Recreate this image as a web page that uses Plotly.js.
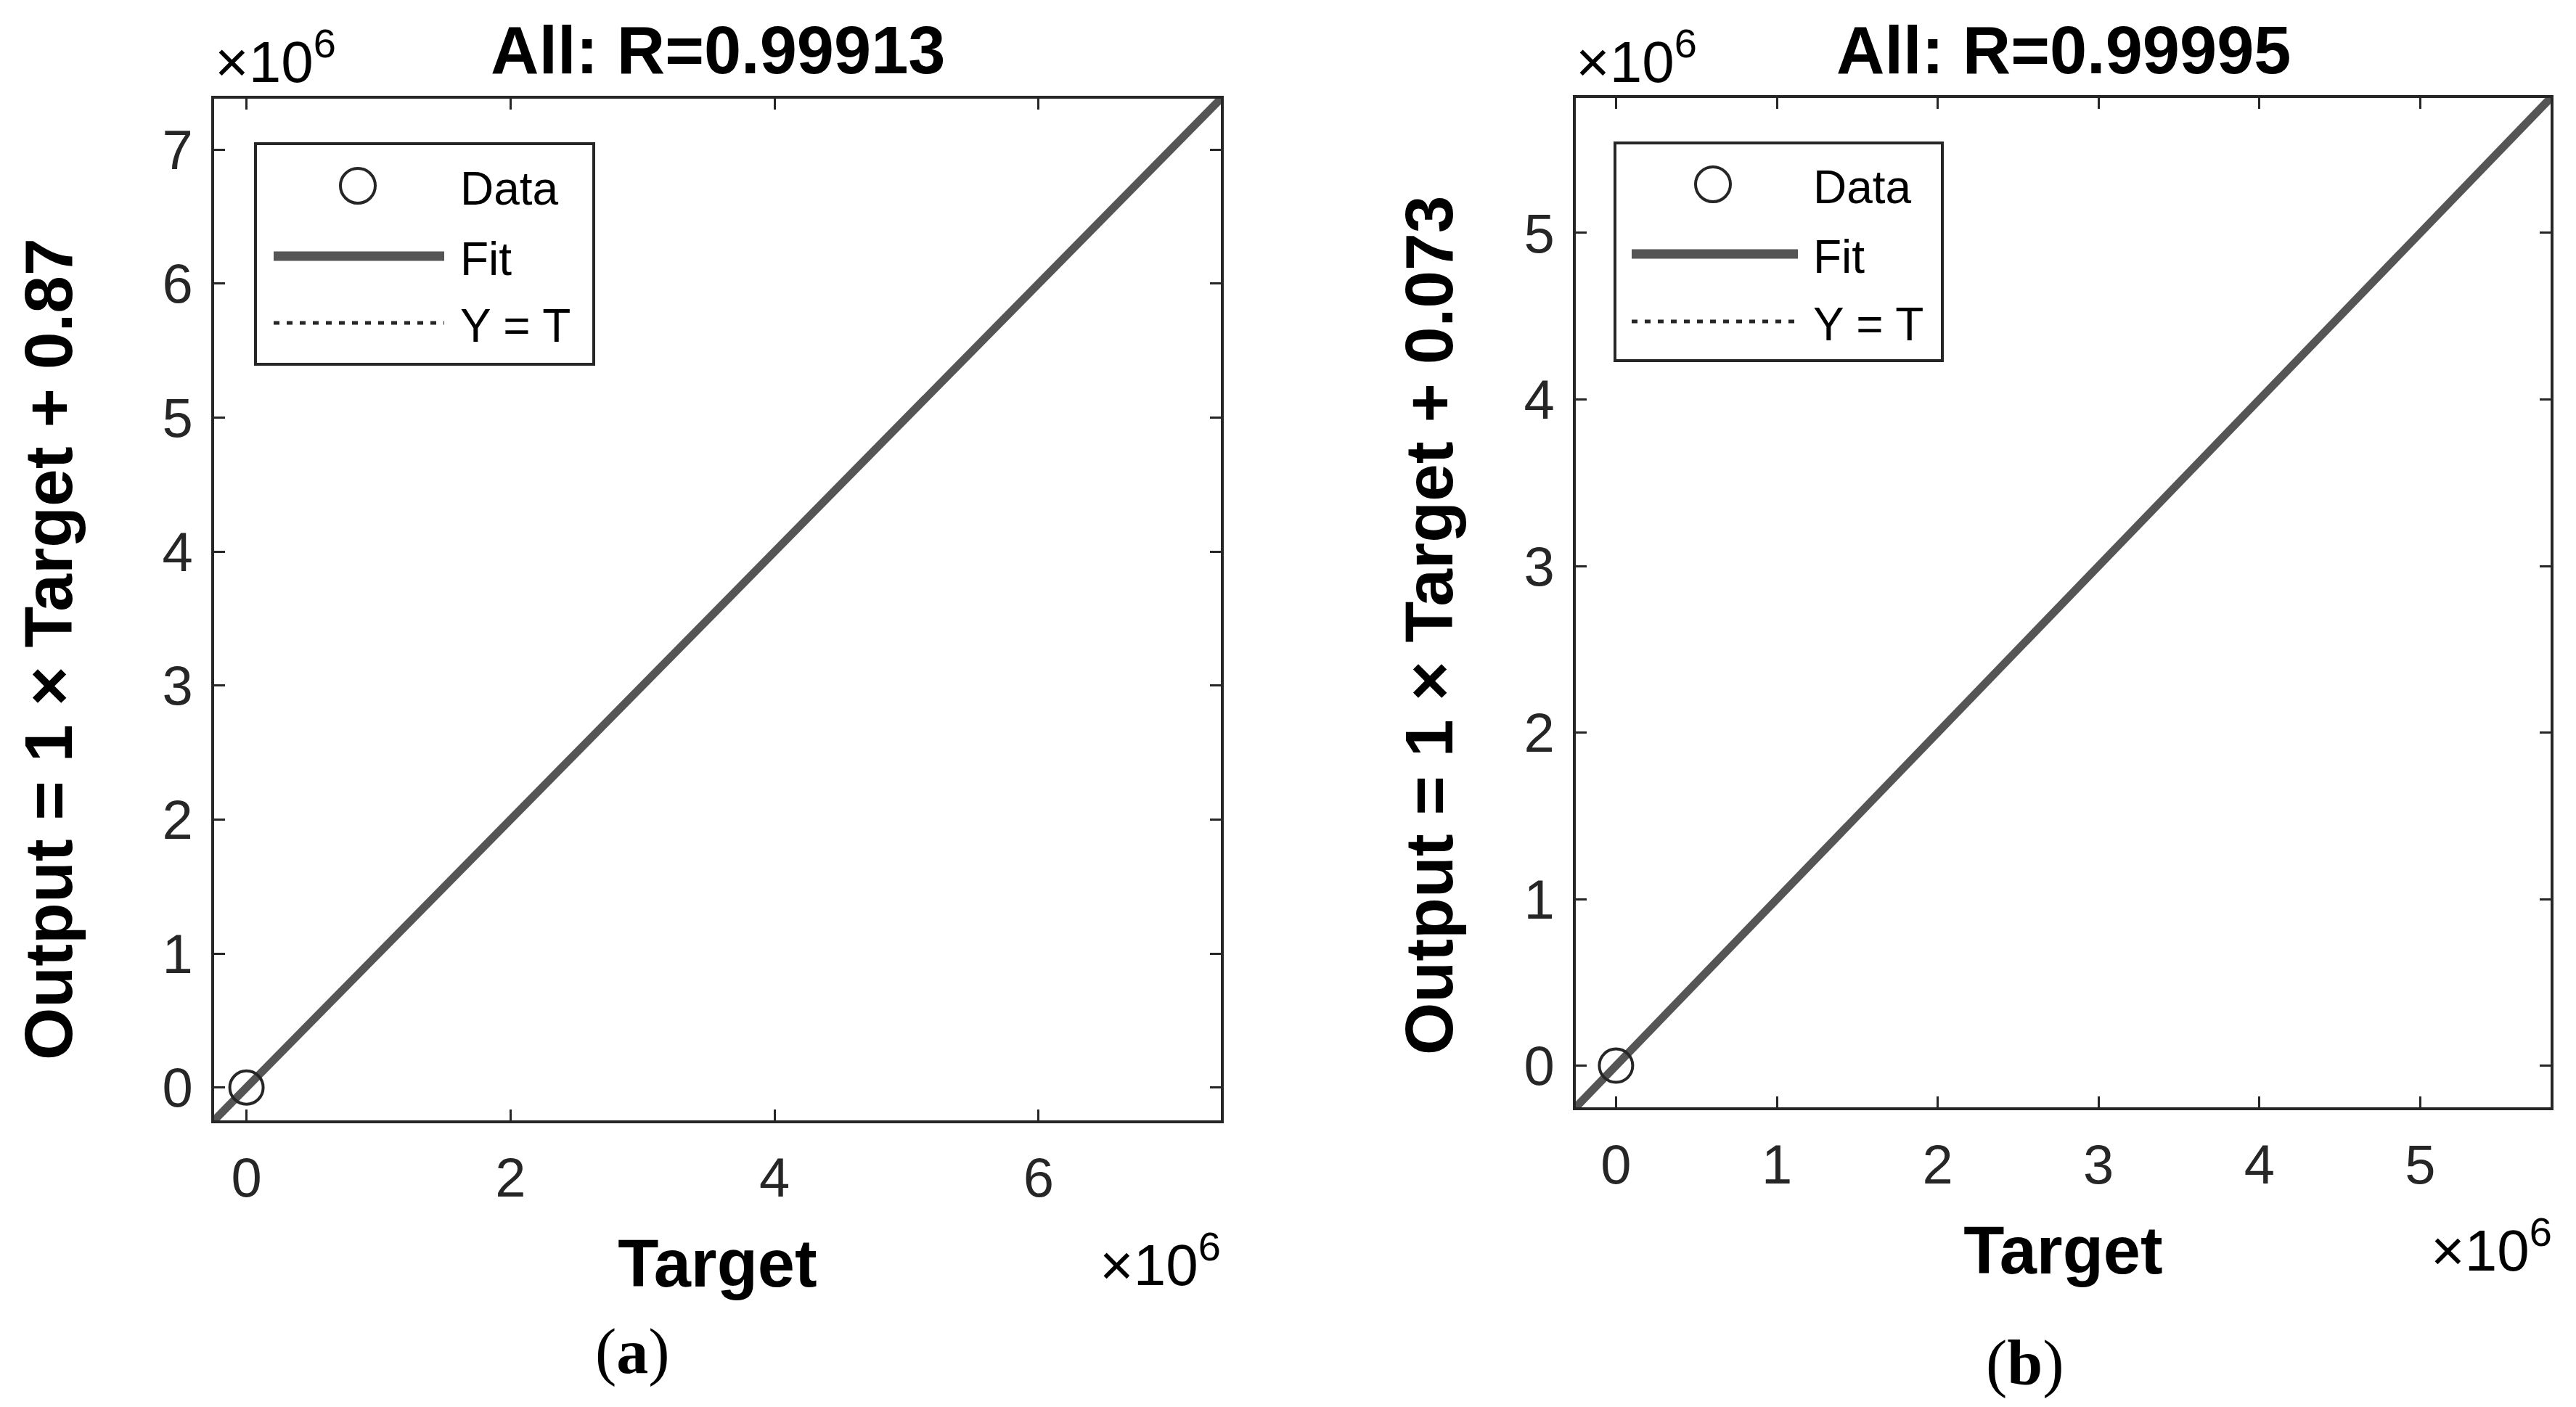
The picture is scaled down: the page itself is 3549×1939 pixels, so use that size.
<!DOCTYPE html>
<html>
<head>
<meta charset="utf-8">
<script src="https://cdn.plot.ly/plotly-3.0.1.min.js"></script>
<style>
  html, body { margin: 0; padding: 0; background: #fff; }
  #chart { width: 3549px; height: 1939px; }
</style>
</head>
<body>
<div id="chart"></div>
<script>
const W = 3549;
const H = 1939;

// (a) regression of Output on Target
const targetA = [0];
const outputA = [0];
const fitTargetA = [-0.245e6, 7.38e6];
const fitOutputA = [-0.245e6, 7.38e6];
const limitsA = [-0.245e6, 7.38e6];
const xTicksA = [0, 2e6, 4e6, 6e6];
const xLabelsA = ['0', '2', '4', '6'];
const yTicksA = [0, 1e6, 2e6, 3e6, 4e6, 5e6, 6e6, 7e6];
const yLabelsA = ['0', '1', '2', '3', '4', '5', '6', '7'];
const titleA = 'All: R=0.99913';
const yTitleA = 'Output = 1 \u00d7 Target + 0.87';

// (b)
const targetB = [0];
const outputB = [0];
const fitTargetB = [-0.25e6, 5.81e6];
const fitOutputB = [-0.25e6, 5.81e6];
const limitsB = [-0.25e6, 5.81e6];
const xTicksB = [0, 1e6, 2e6, 3e6, 4e6, 5e6];
const xLabelsB = ['0', '1', '2', '3', '4', '5'];
const yTicksB = [0, 1e6, 2e6, 3e6, 4e6, 5e6];
const yLabelsB = ['0', '1', '2', '3', '4', '5'];
const titleB = 'All: R=0.99995';
const yTitleB = 'Output = 1 \u00d7 Target + 0.073';

const legendNames = ['Data', 'Fit', 'Y = T'];

const AXIS = '#262626';
const FIT = '#555555';
const SANS = 'Liberation Sans, Arial, Helvetica, sans-serif';
const SERIF = 'Liberation Serif, Times New Roman, serif';
const DOTS = '8px,10px';

// pixel -> paper helpers
const px = x => x / W;
const py = y => 1 - y / H;

function traces(xa, ya, tx, ty, fx, fy) {
  return [
    { x: fx, y: fy, xaxis: xa, yaxis: ya, type: 'scatter', mode: 'lines',
      name: legendNames[2], line: { color: AXIS, width: 4, dash: DOTS } },
    { x: fx, y: fy, xaxis: xa, yaxis: ya, type: 'scatter', mode: 'lines',
      name: legendNames[1], line: { color: FIT, width: 11 } },
    { x: tx, y: ty, xaxis: xa, yaxis: ya, type: 'scatter', mode: 'markers',
      name: legendNames[0],
      marker: { symbol: 'circle-open', size: 46, color: AXIS, line: { width: 4, color: AXIS } } },
  ];
}

function axis(domain, range, tickvals, ticktext, extra) {
  return Object.assign({
    domain, range, tickvals, ticktext,
    showline: true, mirror: 'ticks', linecolor: AXIS, linewidth: 4,
    ticks: 'inside', ticklen: 15, tickwidth: 3, tickcolor: AXIS,
    showgrid: false, zeroline: false, fixedrange: true,
    tickfont: { family: SANS, size: 76, color: AXIS },
  }, extra);
}

// hand-made MATLAB style legend box
function legendBox(left, top, right, bottom, cx, lineX0, lineX1, textX, rows) {
  const shapes = [
    { type: 'rect', xref: 'paper', yref: 'paper', x0: px(left), x1: px(right), y0: py(bottom), y1: py(top),
      line: { color: AXIS, width: 4 }, fillcolor: '#ffffff', layer: 'above' },
    { type: 'circle', xref: 'paper', yref: 'paper', x0: px(cx - 24), x1: px(cx + 24),
      y0: py(rows[0] + 24), y1: py(rows[0] - 24), line: { color: AXIS, width: 4 }, layer: 'above' },
    { type: 'line', xref: 'paper', yref: 'paper', x0: px(lineX0), x1: px(lineX1),
      y0: py(rows[1]), y1: py(rows[1]), line: { color: FIT, width: 13 }, layer: 'above' },
    { type: 'line', xref: 'paper', yref: 'paper', x0: px(lineX0), x1: px(lineX1),
      y0: py(rows[2]), y1: py(rows[2]), line: { color: AXIS, width: 5, dash: DOTS }, layer: 'above' },
  ];
  const notes = legendNames.map((name, i) => ({
    xref: 'paper', yref: 'paper', x: px(textX), y: py(rows[i] + 4),
    xanchor: 'left', yanchor: 'middle', showarrow: false, text: name,
    font: { family: SANS, size: 64, color: '#000' },
  }));
  return { shapes, notes };
}

function note(x, y, text, size, xanchor, yanchor, family, angle) {
  return { xref: 'paper', yref: 'paper', x: px(x), y: py(y), xanchor, yanchor, showarrow: false,
    textangle: angle || 0, text, font: { family: family || SANS, size, color: '#000' } };
}

const legA = legendBox(352, 198, 818, 502, 493, 377, 612, 632, [256, 353, 445]);
const legB = legendBox(2225, 197, 2676, 497, 2360, 2248, 2477, 2496, [254, 350, 443]);

const data = [
  ...traces('x', 'y', targetA, outputA, fitTargetA, fitOutputA),
  ...traces('x2', 'y2', targetB, outputB, fitTargetB, fitOutputB),
];

const xTitle = { text: '<b>Target</b>', standoff: 45, font: { family: SANS, size: 92, color: '#000' } };

const layout = {
  width: W, height: H,
  margin: { l: 0, r: 0, t: 0, b: 0 },
  paper_bgcolor: '#ffffff', plot_bgcolor: '#ffffff',
  showlegend: false, hovermode: false,
  xaxis: axis([px(295), px(1682)], limitsA, xTicksA, xLabelsA, {
    anchor: 'y', ticklabelstandoff: 10, title: xTitle,
  }),
  yaxis: axis([py(1544), py(136)], limitsA, yTicksA, yLabelsA, {
    anchor: 'x', ticklabelstandoff: 10,
  }),
  xaxis2: axis([px(2171), px(3514)], limitsB, xTicksB, xLabelsB, {
    anchor: 'y2', ticklabelstandoff: 10, title: xTitle,
  }),
  yaxis2: axis([py(1526), py(135)], limitsB, yTicksB, yLabelsB, {
    anchor: 'x2', ticklabelstandoff: 10,
  }),
  shapes: [...legA.shapes, ...legB.shapes],
  annotations: [
    note(989, 122, '<b>' + titleA + '</b>', 92, 'center', 'bottom'),
    note(2843, 122, '<b>' + titleB + '</b>', 92, 'center', 'bottom'),
    note(67, 895, '<b>' + yTitleA + '</b>', 93, 'center', 'middle', SANS, -90),
    note(1969, 862, '<b>' + yTitleB + '</b>', 93, 'center', 'middle', SANS, -90),
    note(294, 132, '\u00d710<sup>6</sup>', 80, 'left', 'bottom'),
    note(2169, 132, '\u00d710<sup>6</sup>', 80, 'left', 'bottom'),
    note(1684, 1790, '\u00d710<sup>6</sup>', 80, 'right', 'bottom'),
    note(3518, 1770, '\u00d710<sup>6</sup>', 80, 'right', 'bottom'),
    note(871, 1862, '(<b>a</b>)', 88, 'center', 'middle', SERIF),
    note(2790, 1878, '(<b>b</b>)', 88, 'center', 'middle', SERIF),
    ...legA.notes,
    ...legB.notes,
  ],
};

Plotly.newPlot('chart', data, layout, { staticPlot: true, displayModeBar: false });
</script>
</body>
</html>
